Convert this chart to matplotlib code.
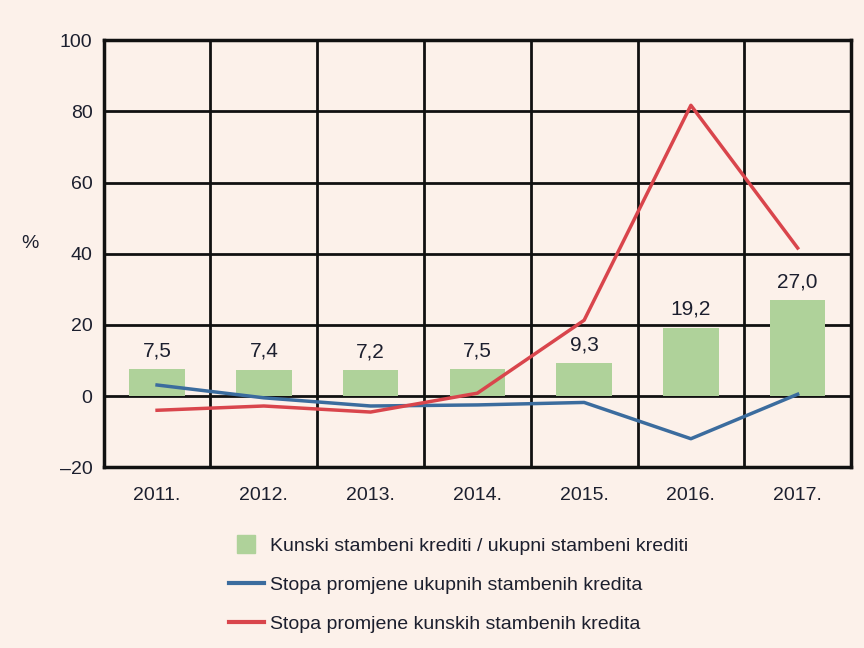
import matplotlib.pyplot as plt
from matplotlib.lines import Line2D
import numpy as np

years = ['2011.', '2012.', '2013.', '2014.', '2015.', '2016.', '2017.']
share = [7.5, 7.4, 7.2, 7.5, 9.3, 19.2, 27.0]
total_rate = [3.1, -0.5, -2.8, -2.5, -1.8, -12.0, 0.5]
kuna_rate = [-4.0, -2.8, -4.5, 0.8, 21.3, 81.7, 41.6]

bg = '#fcf1ea'
green = '#afd29a'
blue = '#3b6c9e'
red = '#d9454c'
txt = '#1c1f2e'

plt.rcParams['font.family'] = ['Liberation Sans', 'DejaVu Sans']

fig = plt.figure(figsize=(8.64, 6.48), dpi=100, facecolor=bg)
ax = fig.add_axes([0.120, 0.279, 0.865, 0.659])
ax.set_facecolor(bg)

x = np.arange(len(years))
ax.bar(x, share, width=0.52, color=green, zorder=2)
for xi, v in zip(x, share):
    ax.text(xi, v + 2.5, f'{v:.1f}'.replace('.', ','), ha='center', va='bottom',
            fontsize=15, color=txt, zorder=5)

ax.plot(x, total_rate, color=blue, lw=2.5, zorder=4)
ax.plot(x, kuna_rate, color=red, lw=2.5, zorder=4)

ax.set_xlim(-0.5, len(years) - 0.5)
ax.set_ylim(-20, 100)
ticks = list(range(-20, 101, 20))
ax.set_yticks(ticks)
ax.set_yticklabels(['\u201320' if t < 0 else str(t) for t in ticks])
ax.set_xticks(x)
ax.set_xticklabels(years)
ax.set_xticks(np.arange(-0.5, len(years), 1), minor=True)

ax.grid(True, which='minor', axis='x', color='#111111', lw=2, zorder=1)
ax.grid(True, which='major', axis='y', color='#111111', lw=2, zorder=1)
ax.set_axisbelow(True)
for s in ax.spines.values():
    s.set_color('#111111')
    s.set_linewidth(2.5)
ax.tick_params(axis='both', which='both', length=0, labelsize=14, labelcolor=txt)
ax.tick_params(axis='x', pad=14)
ax.tick_params(axis='y', pad=8)

fig.text(0.025, 0.625, '%', fontsize=14, color=txt, ha='left', va='center')

handles = [Line2D([0], [0], color=green, marker='s', markersize=13, ls='none'),
           Line2D([0], [0], color=blue, lw=3),
           Line2D([0], [0], color=red, lw=3)]
labels = ['Kunski stambeni krediti / ukupni stambeni krediti',
          'Stopa promjene ukupnih stambenih kredita',
          'Stopa promjene kunskih stambenih kredita']
leg = fig.legend(handles, labels, loc='upper left', bbox_to_anchor=(0.265, 0.171),
                 frameon=False, fontsize=14, handlelength=1.8, handletextpad=0.3,
                 labelspacing=1.1, borderpad=0, borderaxespad=0)
for t in leg.get_texts():
    t.set_color(txt)

fig.savefig('out.png', dpi=100, facecolor=bg)
